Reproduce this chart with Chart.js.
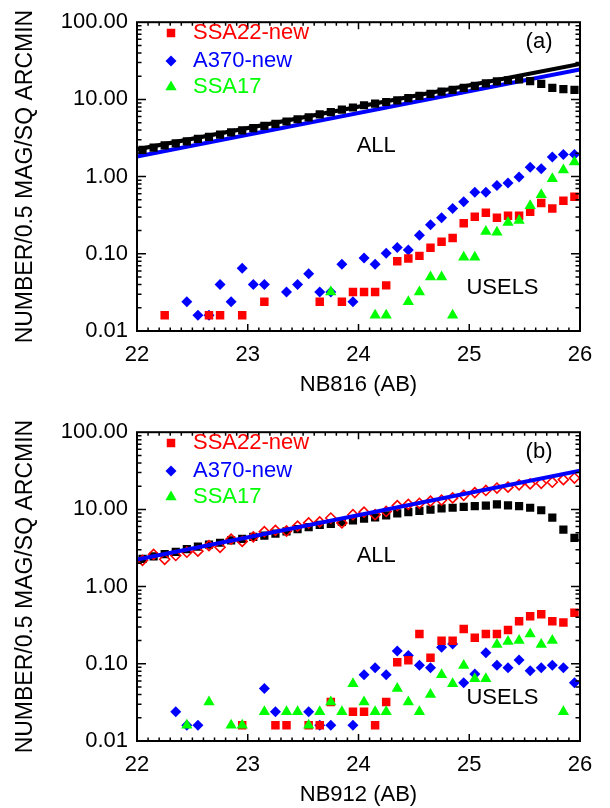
<!DOCTYPE html>
<html>
<head>
<meta charset="utf-8">
<title>Number counts NB816 / NB912</title>
<script src="https://cdn.jsdelivr.net/npm/chart.js@4.4.1/dist/chart.umd.min.js"></script>
<style>
html, body { margin: 0; padding: 0; background: #fff; overflow: hidden; }
#wrap { position: relative; width: 610px; height: 808px; }
canvas { position: absolute; left: 0; }
#chartA { top: 0; }
#chartB { top: 410px; }
</style>
</head>
<body>
<div id="wrap">
<canvas id="chartA" width="610" height="398"></canvas>
<canvas id="chartB" width="610" height="398"></canvas>
</div>
<script>
// bin centres, 0.1 mag bins
const magBins = [22.05, 22.15, 22.25, 22.35, 22.45, 22.55, 22.65, 22.75, 22.85, 22.95,
  23.05, 23.15, 23.25, 23.35, 23.45, 23.55, 23.65, 23.75, 23.85, 23.95,
  24.05, 24.15, 24.25, 24.35, 24.45, 24.55, 24.65, 24.75, 24.85, 24.95,
  25.05, 25.15, 25.25, 25.35, 25.45, 25.55, 25.65, 25.75, 25.85, 25.95];
const xTickValues = [22, 23, 24, 25, 26];
const yTickValues = [0.01, 0.1, 1, 10, 100];
const legendNames = ["SSA22-new", "A370-new", "SSA17"];
const fitMag = [22, 26];

// panel (a) NB816
const allA = [2.22, 2.38, 2.54, 2.69, 2.86, 3.09, 3.27, 3.50, 3.75, 3.97,
  4.25, 4.55, 4.83, 5.17, 5.53, 5.86, 6.40, 6.84, 7.39, 7.85,
  8.40, 8.82, 9.26, 9.71, 10.4, 11.1, 11.8, 12.6, 13.3, 14.1,
  15.0, 16.1, 17.1, 17.7, 18.1, 17.2, 15.9, 14.1, 13.6, 13.3];
const ssa22A = [null, null, 0.016, null, null, null, 0.016, 0.016, null, 0.016,
  null, 0.024, null, null, null, null, 0.024, null, 0.024, 0.032,
  0.032, 0.032, 0.039, 0.080, 0.087, 0.094, 0.120, 0.143, 0.160, 0.249,
  0.303, 0.340, 0.294, 0.312, 0.312, 0.350, 0.455, 0.385, 0.488, 0.547];
const a370A = [null, null, null, null, 0.024, 0.016, 0.016, 0.040, 0.024, 0.065,
  0.040, 0.040, null, 0.032, 0.040, 0.055, 0.032, 0.032, 0.073, 0.024,
  0.088, 0.073, 0.102, 0.121, 0.112, 0.174, 0.238, 0.294, 0.385, 0.473,
  0.627, 0.627, 0.769, 0.824, 0.99, 1.32, 1.26, 1.79, 1.94, 1.94];
const ssa17A = [null, null, null, null, null, null, null, null, null, null,
  null, null, null, null, null, null, null, 0.032, null, null,
  null, 0.016, 0.016, null, 0.024, 0.032, 0.050, 0.050, 0.016, 0.090,
  0.090, 0.195, 0.19, 0.255, 0.27, 0.42, 0.58, 0.94, 1.22, 1.54];
const fitBlackA = [2.25, 28.8];
const fitBlueA = [1.82, 24.4];

// panel (b) NB912
const allB = [2.28, 2.46, 2.64, 2.82, 3.05, 3.30, 3.49, 3.70, 3.96, 4.16,
  4.41, 4.58, 4.85, 5.20, 5.56, 5.90, 6.31, 6.50, 6.89, 7.23,
  7.59, 7.89, 8.36, 8.86, 9.21, 9.58, 9.95, 10.3, 10.5, 10.8,
  11.0, 11.2, 11.6, 11.3, 11.0, 10.5, 9.75, 7.81, 5.46, 4.28];
const ssa22AllB = [2.19, 2.61, 2.26, 2.53, 2.79, 2.88, 3.39, 3.23, 4.12, 3.85,
  4.41, 5.15, 5.35, 5.25, 6.07, 6.68, 6.88, 7.73, 6.68, 8.53,
  9.21, 8.53, 9.40, 11.2, 11.6, 12.0, 12.8, 13.2, 14.1, 15.2,
  16.5, 17.6, 18.9, 19.4, 20.8, 21.4, 21.8, 22.5, 24.3, 25.5];
const ssa22B = [null, null, null, null, null, null, null, null, null, 0.016,
  null, null, 0.016, 0.016, null, 0.016, 0.016, 0.032, null, 0.024,
  0.024, 0.016, 0.032, 0.105, 0.111, 0.244, 0.120, 0.199, 0.199, 0.282,
  0.217, 0.244, 0.244, 0.274, 0.356, 0.412, 0.438, 0.356, 0.343, 0.459];
const a370B = [null, null, null, 0.024, 0.016, 0.016, null, null, null, null,
  null, 0.048, 0.024, null, null, 0.024, 0.016, 0.016, null, 0.016,
  0.072, 0.089, 0.072, 0.146, 0.128, 0.096, 0.089, 0.164, 0.180, 0.057,
  0.074, 0.139, 0.096, 0.089, 0.112, 0.081, 0.089, 0.096, 0.089, 0.057];
const ssa17B = [null, null, null, null, 0.016, null, 0.032, null, 0.016, 0.016,
  null, 0.024, null, 0.024, 0.024, 0.016, 0.024, 0.032, 0.024, 0.055,
  0.032, 0.024, 0.024, 0.048, 0.032, 0.024, 0.040, 0.072, 0.055, 0.095,
  0.064, 0.064, 0.178, 0.195, 0.20, 0.243, 0.178, 0.20, 0.024, null];
const fitBlueB = [2.24, 31.8];

const RED = "#ff0000", BLUE = "#0000ff", GREEN = "#00ff00";
Chart.defaults.font.family = '"Liberation Sans", Arial, Helvetica, sans-serif';
Chart.defaults.color = "#000";

function toPoints(xs, ys) {
  return xs.map((m, i) => ({ x: m, y: ys[i] })).filter(p => p.y !== null);
}

function marks(data, style, color, radius, order, open) {
  return {
    type: "scatter", data: data, order: order,
    pointStyle: style, pointRadius: radius,
    backgroundColor: open ? "rgba(0,0,0,0)" : color,
    borderColor: color, pointBorderWidth: open ? 1.6 : 0
  };
}

function fitLine(ys, color, order) {
  return {
    type: "line", data: toPoints(fitMag, ys), order: order,
    borderColor: color, borderWidth: 4, pointRadius: 0, fill: false
  };
}

// axis box with inward ticks on all four sides, legend and labels
const framePlugin = {
  id: "frame",
  afterDraw(chart, args, opts) {
    const { ctx, chartArea: ca, scales: { x, y } } = chart;
    ctx.save();
    ctx.strokeStyle = "#000";
    ctx.lineWidth = 1.5;
    ctx.beginPath();
    for (let k = 220; k <= 260; k++) {
      const px = x.getPixelForValue(k / 10);
      const len = k % 10 === 0 ? 7 : 3.5;
      ctx.moveTo(px, ca.bottom); ctx.lineTo(px, ca.bottom - len);
      ctx.moveTo(px, ca.top); ctx.lineTo(px, ca.top + len);
    }
    for (let e = -2; e <= 1; e++) {
      for (let d = 1; d <= 9; d++) {
        const py = y.getPixelForValue(d * Math.pow(10, e));
        const len = d === 1 ? 9 : 4.5;
        ctx.moveTo(ca.left, py); ctx.lineTo(ca.left + len, py);
        ctx.moveTo(ca.right, py); ctx.lineTo(ca.right - len, py);
      }
    }
    ctx.stroke();
    ctx.lineWidth = 2;
    ctx.strokeRect(ca.left, ca.top, ca.right - ca.left, ca.bottom - ca.top);

    // legend
    const styles = [["rect", 6, RED], ["rectRot", 5.5, BLUE], ["triangle", 6.5, GREEN]];
    const rows = [33, 61, 87];
    ctx.font = '22px "Liberation Sans", Arial, sans-serif';
    ctx.textBaseline = "middle";
    ctx.textAlign = "left";
    styles.forEach((s, i) => {
      ctx.fillStyle = s[2];
      Chart.helpers.drawPoint(ctx, { pointStyle: s[0], radius: s[1], rotation: 0, borderWidth: 0 }, 171, rows[i]);
      ctx.fillText(legendNames[i], 193, rows[i]);
    });

    // panel letter and region labels
    ctx.fillStyle = "#000";
    ctx.textAlign = "center";
    ctx.fillText(opts.letter, x.getPixelForValue(25.63), y.getPixelForValue(56));
    ctx.fillText("ALL", x.getPixelForValue(24.16), y.getPixelForValue(2.49));
    ctx.fillText("USELS", x.getPixelForValue(25.30), y.getPixelForValue(0.036));
    ctx.restore();
  }
};

function makeChart(id, datasets, xTitle, letter) {
  return new Chart(document.getElementById(id), {
    data: { datasets: datasets },
    plugins: [framePlugin],
    options: {
      responsive: false, animation: false, events: [],
      layout: { padding: { left: 0, right: 30, top: 15, bottom: 0 } },
      plugins: { legend: { display: false }, tooltip: { enabled: false }, frame: { letter: letter } },
      scales: {
        x: {
          type: "linear", min: 22, max: 26,
          grid: { display: false, drawTicks: false }, border: { display: false },
          afterBuildTicks: s => { s.ticks = xTickValues.map(v => ({ value: v })); },
          afterFit: s => { s.height = 67; },
          ticks: { padding: 11, font: { size: 22 }, callback: v => String(v) },
          title: { display: true, text: xTitle, font: { size: 22 }, padding: { top: 0, bottom: 0 } }
        },
        y: {
          type: "logarithmic", min: 0.01, max: 100,
          grid: { display: false, drawTicks: false }, border: { display: false },
          afterBuildTicks: s => { s.ticks = yTickValues.map(v => ({ value: v })); },
          afterFit: s => { s.width = 137; },
          ticks: { padding: 9, autoSkip: false, font: { size: 22 }, callback: v => Number(v).toFixed(2) },
          title: { display: true, text: "NUMBER/0.5 MAG/SQ ARCMIN", font: { size: 23 }, padding: { top: 12, bottom: 0 } }
        }
      }
    }
  });
}

makeChart("chartA", [
  fitLine(fitBlackA, "#000", 10),
  fitLine(fitBlueA, BLUE, 9),
  marks(toPoints(magBins, allA), "rect", "#000", 5.8, 8),
  marks(toPoints(magBins, a370A), "rectRot", BLUE, 5.5, 7),
  marks(toPoints(magBins, ssa22A), "rect", RED, 6, 6),
  marks(toPoints(magBins, ssa17A), "triangle", GREEN, 6.5, 5)
], "NB816 (AB)", "(a)");

makeChart("chartB", [
  marks(toPoints(magBins, allB), "rect", "#000", 5.8, 10),
  marks(toPoints(magBins, ssa22AllB), "rectRot", RED, 5, 9, true),
  fitLine(fitBlueB, BLUE, 8),
  marks(toPoints(magBins, a370B), "rectRot", BLUE, 5.5, 7),
  marks(toPoints(magBins, ssa22B), "rect", RED, 6, 6),
  marks(toPoints(magBins, ssa17B), "triangle", GREEN, 6.5, 5)
], "NB912 (AB)", "(b)");
</script>
</body>
</html>
